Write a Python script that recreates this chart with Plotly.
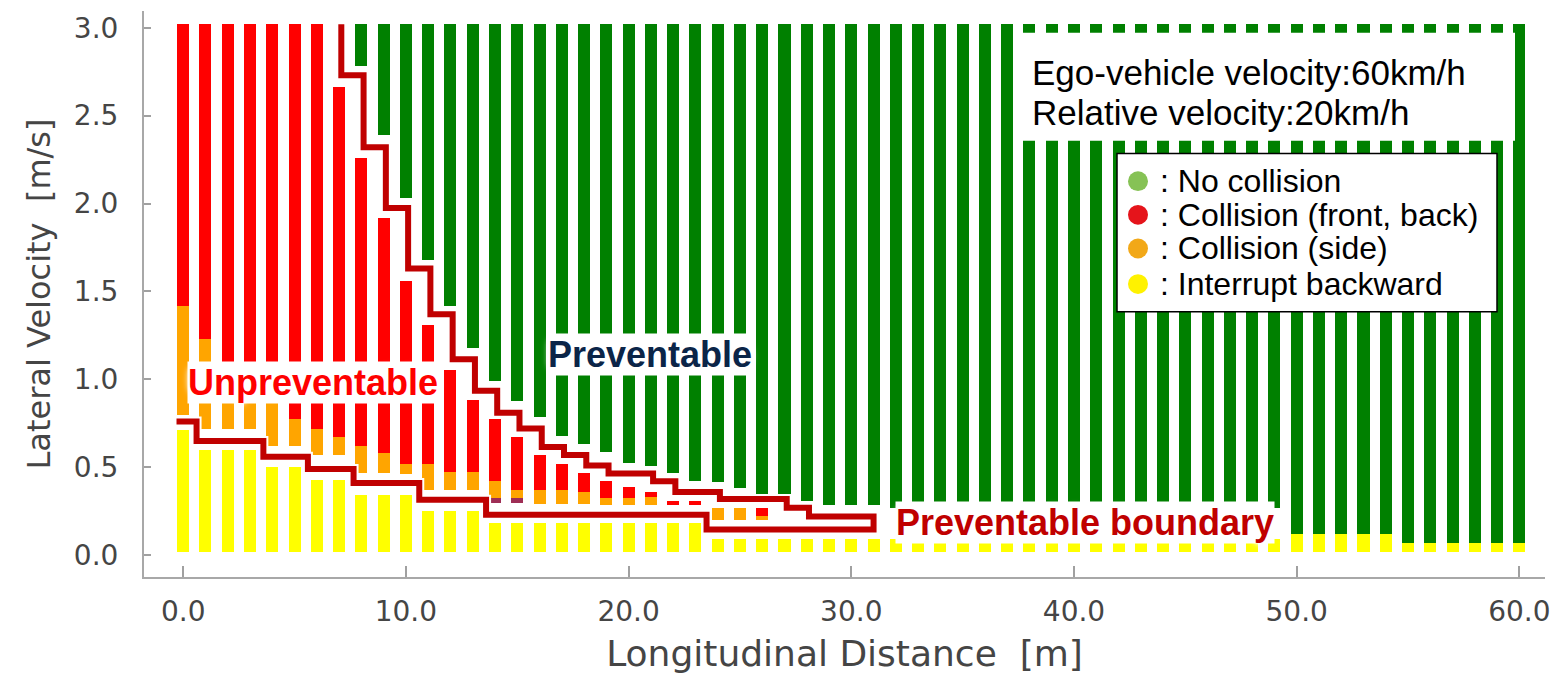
import plotly.graph_objects as go

# ---------------- data ----------------
distance = list(range(61))

yellow_top = [0.71, 0.60, 0.60, 0.60, 0.50, 0.50, 0.43, 0.43, 0.34, 0.34,
              0.34, 0.25, 0.25, 0.25] + [0.185] * 10 + [0.09] * 26 + [0.12] * 5 + [0.07] * 6

orange_low = [0.80, 0.72, 0.72, 0.72, 0.62, 0.62, 0.57, 0.57, 0.47, 0.47,
              0.46, 0.37, 0.37, 0.37, 0.325, 0.325, 0.29, 0.29, 0.29, 0.287,
              0.287, 0.287, None, None, 0.203, 0.203, 0.203] + [None] * 34
orange_high = [1.42, 1.23, 1.00, 0.93, 0.88, 0.775, 0.72, 0.67, 0.62, 0.58,
               0.52, 0.52, 0.475, 0.475, 0.42, 0.37, 0.37, 0.37, 0.36, 0.325,
               0.325, 0.33, None, None, 0.268, 0.268, 0.222] + [None] * 34

red_low = [1.42, 1.23, 1.00, 0.93, 0.88, 0.775, 0.72, 0.67, 0.62, 0.58,
           0.52, 0.52, 0.475, 0.475, 0.42, 0.37, 0.37, 0.37, 0.36, 0.325,
           0.325, 0.33, 0.284, 0.284, None, None, 0.222] + [None] * 34
red_high = [3.02] * 7 + [2.66, 2.26, 1.92, 1.56, 1.31, 1.056, 0.88, 0.775, 0.67,
                         0.57, 0.516, 0.465, 0.42, 0.39, 0.36, 0.31, 0.31, None, None, 0.268] + [None] * 34

mixed_low = [None] * 14 + [0.295, 0.295] + [None] * 45
mixed_high = [None] * 14 + [0.325, 0.325] + [None] * 45

green_low = [None] * 8 + [2.78, 2.39, 2.03, 1.68, 1.42, 1.18, 0.99, 0.878, 0.784, 0.68,
                          0.634, 0.587, 0.525, 0.51, 0.47, 0.42, 0.418, 0.38, 0.345, 0.343,
                          0.306, 0.287, 0.287, 0.287] + [0.27] * 18 + [0.12] * 5 + [0.07] * 6
bar_bottom = 0.02
bar_top = 3.02

# preventable boundary (step polyline, vertical-then-horizontal)
boundary_x = [7.1, 8.1, 9.1, 10.1, 11.1, 12.1, 13.1, 14.1, 15.1, 16.1, 17.1, 18.1, 19.1,
              21.1, 22.1, 24.1, 27.1, 28.1, 31.0, 23.5, 13.6, 10.6, 7.65, 5.6, 3.6, 0.6, -0.3]
boundary_y = [3.02, 2.73, 2.32, 1.975, 1.63, 1.37, 1.115, 0.935, 0.81, 0.72, 0.615, 0.57, 0.51,
              0.465, 0.42, 0.36, 0.32, 0.27, 0.22, 0.146, 0.23, 0.315, 0.41, 0.49, 0.56, 0.65, 0.76]

legend_names = [": No collision", ": Collision (front, back)", ": Collision (side)", ": Interrupt backward"]
legend_colors = ["#86C255", "#E5141B", "#F2A818", "#FFF200"]

x_ticks = [0, 10, 20, 30, 40, 50, 60]
y_ticks = [0.0, 0.5, 1.0, 1.5, 2.0, 2.5, 3.0]

# ---------------- figure ----------------
def seg(lows, highs):
    base, length = [], []
    for lo, hi in zip(lows, highs):
        if lo is None or hi is None:
            base.append(None)
            length.append(None)
        else:
            base.append(lo)
            length.append(hi - lo)
    return base, length

fig = go.Figure()
BW = 0.54

segments = [
    ([bar_bottom] * 61, yellow_top, "#FFFF00"),
    (orange_low, orange_high, "#FFA500"),
    (mixed_low, mixed_high, "#9E2E55"),
    (red_low, red_high, "#FF0000"),
    (green_low, [bar_top if g is not None else None for g in green_low], "#008000"),
]
for lows, highs, col in segments:
    b, l = seg(lows, highs)
    fig.add_trace(go.Bar(x=distance, y=l, base=b, width=BW, marker=dict(color=col, line=dict(width=0)),
                         showlegend=False, hoverinfo="skip"))

# boundary line with a thin white halo
fig.add_trace(go.Scatter(x=boundary_x, y=boundary_y, mode="lines", line=dict(color="white", width=10, shape="vh"),
                         showlegend=False, hoverinfo="skip"))
fig.add_trace(go.Scatter(x=boundary_x, y=boundary_y, mode="lines", line=dict(color="#C00000", width=6, shape="vh"),
                         showlegend=False, hoverinfo="skip"))

L, R, T, B = 144, 19, 11, 95
W, H = 1564, 678
pw, ph = W - L - R, H - T - B

def px(xp):
    return (xp - L) / pw

def py(yp):
    return (H - B - yp) / ph

axis_font = dict(family="DejaVu Sans", size=28, color="#454545")
fig.update_layout(
    width=W, height=H, margin=dict(l=L, r=R, t=T, b=B),
    plot_bgcolor="white", paper_bgcolor="white", barmode="overlay", bargap=0,
    showlegend=False,
    xaxis=dict(range=[-1.76, 61.15], tickvals=x_ticks, ticktext=[f"{v:.1f}" for v in x_ticks],
               showgrid=False, zeroline=False, showline=True, linecolor="#A8A8A8", linewidth=2,
               ticks="inside", ticklen=11, tickwidth=1.5, tickcolor="#A0A0A0",
               tickfont=axis_font, ticklabelstandoff=8,
               title=dict(text="Longitudinal Distance\u00a0 [m]", font=dict(family="DejaVu Sans", size=36, color="#454545"),
                          standoff=14)),
    yaxis=dict(range=[-0.124, 3.095], tickvals=y_ticks, ticktext=[f"{v:.1f}" for v in y_ticks],
               showgrid=False, zeroline=False, showline=True, linecolor="#A8A8A8", linewidth=2,
               ticks="inside", ticklen=7, tickwidth=1.5, tickcolor="#A0A0A0",
               tickfont=axis_font, ticklabelstandoff=18,
               title=dict(text="Lateral Velocity\u00a0 [m/s]", font=dict(family="DejaVu Sans", size=32, color="#454545"),
                          standoff=14)),
    font=dict(family="Liberation Sans"),
)

# info box
fig.add_shape(type="rect", xref="paper", yref="paper", x0=px(1020), x1=px(1515), y0=py(142), y1=py(33),
              fillcolor="white", line=dict(width=0), layer="above")
fig.add_annotation(xref="paper", yref="paper", x=px(1030), y=py(73), xanchor="left", yanchor="middle",
                   text="Ego-vehicle velocity:60km/h", showarrow=False,
                   font=dict(family="Liberation Sans", size=35, color="black"))
fig.add_annotation(xref="paper", yref="paper", x=px(1030), y=py(114), xanchor="left", yanchor="middle",
                   text="Relative velocity:20km/h", showarrow=False,
                   font=dict(family="Liberation Sans", size=35, color="black"))

# legend box (drawn as in the reference: boxed list of coloured dots)
fig.add_shape(type="rect", xref="paper", yref="paper", x0=px(1117), x1=px(1497), y0=py(315), y1=py(155),
              fillcolor="white", line=dict(color="black", width=1.5), layer="above")
row_y = [183, 217, 251, 287]
rad = 10
for name, col, ry in zip(legend_names, legend_colors, row_y):
    fig.add_shape(type="circle", xref="paper", yref="paper",
                  x0=px(1138 - rad), x1=px(1138 + rad), y0=py(ry + rad), y1=py(ry - rad),
                  fillcolor=col, line=dict(width=0), layer="above")
    fig.add_annotation(xref="paper", yref="paper", x=px(1158), y=py(ry), xanchor="left", yanchor="middle",
                       text=name, showarrow=False,
                       font=dict(family="Liberation Sans", size=32, color="black"))

glow = "0 0 4px white, 0 0 6px white, 0 0 8px white"
fig.add_annotation(x=5.83, y=0.98, text="Unpreventable", showarrow=False, bgcolor="white", borderpad=0,
                   font=dict(family="Liberation Sans", size=36, color="#FF0000", weight="bold", shadow=glow))
fig.add_annotation(x=20.96, y=1.14, text="Preventable", showarrow=False, bgcolor="white", borderpad=0,
                   font=dict(family="Liberation Sans", size=36, color="#0B2548", weight="bold", shadow=glow))
fig.add_annotation(x=40.5, y=0.185, text="Preventable boundary", showarrow=False, bgcolor="white", borderpad=0,
                   font=dict(family="Liberation Sans", size=36, color="#C00000", weight="bold", shadow=glow))

fig.write_html("out.html")
